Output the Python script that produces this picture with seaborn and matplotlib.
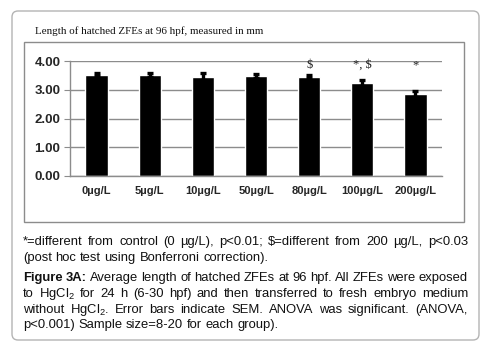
import numpy as np
import pandas as pd
import seaborn as sns
import matplotlib
matplotlib.use("Agg")
from matplotlib import pyplot as plt
from matplotlib.patches import FancyBboxPatch, Rectangle
from matplotlib.transforms import IdentityTransform

# values (mm)
groups = ["0µg/L", "5µg/L", "10µg/L", "50µg/L", "80µg/L", "100µg/L", "200µg/L"]
mean_len = [3.53, 3.53, 3.46, 3.49, 3.46, 3.23, 2.84]
sem_len = [0.06, 0.07, 0.12, 0.07, 0.06, 0.11, 0.10]
sig_marks = ["", "", "", "", "\\$", "*, \\$", "*"]

title = "Length of hatched ZFEs at 96 hpf, measured in mm"
caption = [
    ("*=different from control (0 µg/L), p<0.01; \\$=different from 200 µg/L, p<0.03", True, 0),
    ("(post hoc test using Bonferroni correction).", False, 0),
    ("Figure 3A: Average length of hatched ZFEs at 96 hpf. All ZFEs were exposed", True, 2),
    ("to HgCl$_2$ for 24 h (6-30 hpf) and then transferred to fresh embryo medium", True, 0),
    ("without HgCl$_2$. Error bars indicate SEM. ANOVA was significant. (ANOVA,", True, 0),
    ("p<0.001) Sample size=8-20 for each group).", False, 0),
]

df = pd.DataFrame({"group": groups, "length": mean_len})

sns.set_style("white")
plt.rcParams["font.family"] = ["Liberation Sans", "DejaVu Sans"]
plt.rcParams["mathtext.fontset"] = "custom"
plt.rcParams["mathtext.rm"] = "Liberation Sans"
plt.rcParams["mathtext.it"] = "Liberation Sans:italic"
plt.rcParams["mathtext.bf"] = "Liberation Sans:bold"

W, H = 487, 351
fig = plt.figure(figsize=(W / 100, H / 100), dpi=100)

# frames (pixel coords, y from top converted)
outer = FancyBboxPatch((12, H - 340), 467, 329, boxstyle="round,pad=0,rounding_size=6",
                       transform=IdentityTransform(), fill=False, ec="#b4b4b4", lw=1.0)
fig.patches.append(outer)
inner = Rectangle((24, H - 222), 440, 180, transform=IdentityTransform(),
                  fill=False, ec="#8c8c8c", lw=1.0)
fig.patches.append(inner)

ax = fig.add_axes([70 / W, 1 - 176 / H, (442 - 70) / W, (176 - 61) / H])
sns.barplot(data=df, x="group", y="length", color="black", width=0.42,
            saturation=1, ax=ax, errorbar=None)
ax.errorbar(np.arange(len(groups)), mean_len, yerr=sem_len, fmt="none",
            ecolor="black", elinewidth=2.4, capsize=2.5, capthick=2.4, zorder=5)

for i, m in enumerate(sig_marks):
    if m:
        ax.text(i, 3.86, m, ha="center", va="center", fontsize=9,
                family="Liberation Serif", color="#222222")

ax.set_ylim(0, 4)
ax.set_xlim(-0.5, len(groups) - 0.5)
ax.set_yticks([0, 1, 2, 3, 4])
ax.set_yticklabels([f"{v:.2f}" for v in [0, 1, 2, 3, 4]], fontsize=9.5, fontweight="bold")
ax.set_xticks(np.arange(len(groups)))
ax.set_xticklabels(groups, fontsize=8, fontweight="bold")
ax.set_xticks(np.arange(len(groups) + 1) - 0.5, minor=True)
ax.tick_params(axis="x", which="major", length=0, pad=7)
ax.tick_params(axis="x", which="minor", length=4, color="#8c8c8c", direction="out")
ax.tick_params(axis="y", length=4, color="#8c8c8c", direction="out", pad=3, left=True)
ax.set_xlabel("")
ax.set_ylabel("")
ax.grid(axis="y", color="#8c8c8c", lw=1.0)
ax.set_axisbelow(True)
for s in ["top", "right"]:
    ax.spines[s].set_visible(False)
for s in ["left", "bottom"]:
    ax.spines[s].set_color("#8c8c8c")
    ax.spines[s].set_linewidth(1.0)

fig.text(35 / W, 1 - 31 / H, title, family="Liberation Serif", fontsize=7.9,
         ha="left", va="center", color="#111111")

# justified caption
renderer = fig.canvas.get_renderer()
x0, x1 = 23, 468
ys = [242, 258, 278, 294, 310, 325]
for (line, just, nbold), y in zip(caption, ys):
    words = line.split(" ")
    arts = []
    for k, w in enumerate(words):
        t = fig.text(0, 0, w, fontsize=9.4, ha="left", va="center",
                     fontweight="bold" if k < nbold else "normal",
                     transform=IdentityTransform(), color="#111111")
        arts.append(t)
    widths = [a.get_window_extent(renderer).width for a in arts]
    if just:
        gap = (x1 - x0 - sum(widths)) / (len(words) - 1)
    else:
        gap = 3.6
    x = x0
    for a, wd in zip(arts, widths):
        a.set_position((x, H - y))
        x += wd + gap

fig.savefig("out.png", dpi=100)
